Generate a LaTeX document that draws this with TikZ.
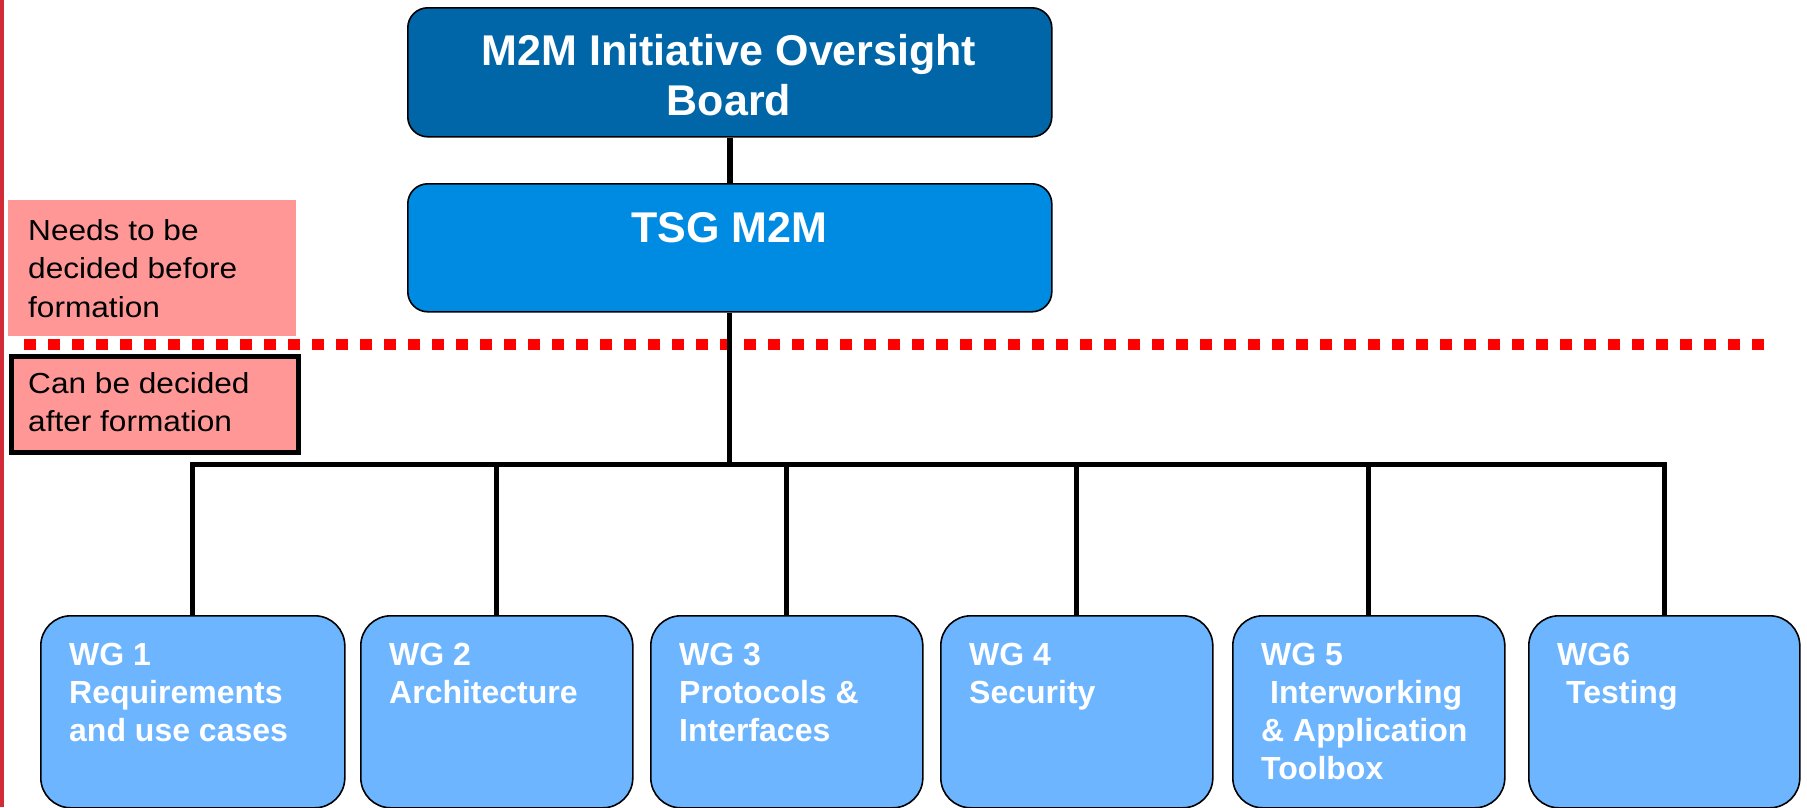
\documentclass[tikz,border=0pt]{standalone}
\usepackage{fontspec}
\setmainfont{Liberation Sans}
\newfontfamily\legendfont[FakeStretch=1.09]{Liberation Sans}
\definecolor{boardblue}{RGB}{0,102,168}
\definecolor{tsgblue}{RGB}{0,139,226}
\definecolor{wgblue}{RGB}{109,181,255}
\definecolor{legendpink}{RGB}{255,151,151}
\definecolor{edgered}{RGB}{210,43,56}
\tikzset{
  topbox/.style={draw=black, line width=1.6, rounded corners=20, inner sep=0, anchor=north west},
  wgbox/.style={draw=black, line width=1.6, rounded corners=30, fill=wgblue, inner sep=0, anchor=north west, minimum height=192},
  bigtext/.style={text=white, inner sep=0, font={\fontsize{43}{50}\selectfont\bfseries}, align=center},
  wgtext/.style={text=white, inner sep=0, font={\fontsize{32}{38}\selectfont\bfseries}, align=left, anchor=north west},
  legendtext/.style={text=black, inner sep=0, font={\legendfont\fontsize{29}{38.5}\selectfont}, align=left, anchor=north west},
  conn/.style={draw=black, line width=5},
}
\begin{document}
\begin{tikzpicture}[x=1pt,y=-1pt]
\useasboundingbox (0,0) rectangle (1807,807);
% left red edge
\fill[edgered] (0,0) rectangle (4,807);
% boxes
\node[topbox, fill=boardblue, minimum width=644, minimum height=129] (board) at (407,7) {};
\node[topbox, fill=tsgblue, minimum width=644, minimum height=128] (tsg) at (407,183) {};
\node[wgbox, minimum width=304] (wg1) at (40,615) {};
\node[wgbox, minimum width=272] (wg2) at (360,615) {};
\node[wgbox, minimum width=272] (wg3) at (650,615) {};
\node[wgbox, minimum width=272] (wg4) at (940,615) {};
\node[wgbox, minimum width=272] (wg5) at (1232,615) {};
\node[wgbox, minimum width=271] (wg6) at (1528,615) {};
% legend boxes
\node[fill=legendpink, inner sep=0, minimum width=288, minimum height=136, anchor=north west] (before) at (8,200) {};
\node[fill=legendpink, draw=black, line width=5, inner sep=0, minimum width=287, minimum height=96, anchor=north west] (after) at (8.5,353.5) {};
% texts
\node[bigtext, anchor=north] (boardtext) at (729,34) {M2M Initiative Oversight\\Board};
\node[bigtext, anchor=base] (tsgtext) at (729,242) {TSG M2M};
\node[wgtext] (wg1text) at ([shift={(29,28)}]wg1.north west) {WG 1\\Requirements\\and use cases};
\node[wgtext] (wg2text) at ([shift={(29,28)}]wg2.north west) {WG 2\\Architecture};
\node[wgtext] (wg3text) at ([shift={(29,28)}]wg3.north west) {WG 3\\Protocols \&\\Interfaces};
\node[wgtext] (wg4text) at ([shift={(29,28)}]wg4.north west) {WG 4\\Security};
\node[wgtext] (wg5text) at ([shift={(29,28)}]wg5.north west) {WG 5\\\hspace*{0.28em}Interworking\\\& Application\\Toolbox};
\node[wgtext] (wg6text) at ([shift={(29,28)}]wg6.north west) {WG6\\\hspace*{0.28em}Testing};
\node[legendtext] (beforetext) at (28,219) {Needs to be\\decided before\\formation};
\node[legendtext] (aftertext) at (28,372) {Can be decided\\after formation};
% red dotted separator
\coordinate (sepL) at (24,344);
\coordinate (sepR) at (1764,344);
\draw[red, line width=11, dash pattern=on 12 off 12] (sepL) -- (sepR);
% connectors
\coordinate (bus) at (0,464);
\draw[conn, line width=6] (board.south) -- (tsg.north);
\draw[conn] (tsg.south) -- (tsg.south |- bus);
\draw[conn] (wg1.north) -- (wg1.north |- bus) -- (wg6.north |- bus) -- (wg6.north);
\draw[conn] (wg2.north |- bus) -- (wg2.north);
\draw[conn] (wg3.north |- bus) -- (wg3.north);
\draw[conn] (wg4.north |- bus) -- (wg4.north);
\draw[conn] (wg5.north |- bus) -- (wg5.north);
\end{tikzpicture}
\end{document}
